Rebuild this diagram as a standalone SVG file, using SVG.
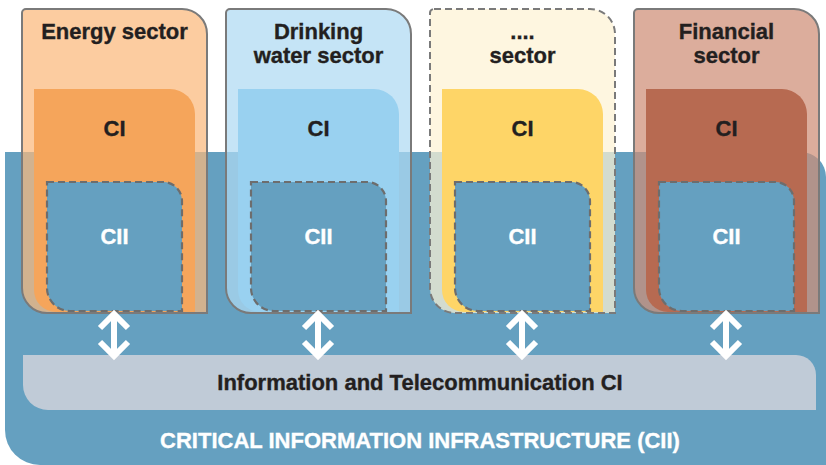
<svg xmlns="http://www.w3.org/2000/svg" width="826" height="465" viewBox="0 0 826 465">
<defs>
<style>
.bg{fill:#65a0c0}
.outer{stroke:#7a7a7a;stroke-width:2;fill-opacity:0.72}
.dashed{stroke-dasharray:7 4}
.cii{fill:#65a0c0;stroke:#6d6d6d;stroke-width:2.2;stroke-dasharray:7 4}
.t{font-family:"Liberation Sans",Arial,sans-serif;font-weight:bold;text-anchor:middle;fill:#231f20;stroke:#231f20;stroke-width:0.35}
.title{font-size:22px}
.ci{font-size:22px}
.w{fill:#ffffff;stroke:#ffffff}
.arrow{fill:none;stroke:#ffffff;stroke-width:6;stroke-linejoin:miter;stroke-linecap:butt}
.bar{fill:#c0cbd7}
</style>
</defs>
<path id="cii-background" class="bg" d="M5,152 H801 A25,25 0 0 1 826,177 V465 H40 A35,35 0 0 1 5,430 Z"/>

<g id="energy">
<path class="outer" fill="#fbb97c" d="M26,9 H182 A25,25 0 0 1 207,34 V313 H47 A25,25 0 0 1 22,288 V13 A4,4 0 0 1 26,9 Z"/>
<path fill="#f5a55b" d="M34,89 H170 A25,25 0 0 1 195,114 V312 H56 A22,22 0 0 1 34,290 Z"/>
<path class="cii" d="M47,182 H163 A19,19 0 0 1 182,201 V311 H70 A23,23 0 0 1 47,288 Z"/>
<text class="t title" x="114.5" y="39">Energy sector</text>
<text class="t ci" x="114.5" y="136">CI</text>
<text class="t ci w" x="114.5" y="244">CII</text>
</g>

<g id="drinking-water">
<path class="outer" fill="#afdaf3" d="M230,9 H386 A25,25 0 0 1 411,34 V313 H251 A25,25 0 0 1 226,288 V13 A4,4 0 0 1 230,9 Z"/>
<path fill="#99d1f0" d="M238,89 H374 A25,25 0 0 1 399,114 V312 H260 A22,22 0 0 1 238,290 Z"/>
<path class="cii" d="M251,182 H367 A19,19 0 0 1 386,201 V311 H274 A23,23 0 0 1 251,288 Z"/>
<text class="t title" x="318.5" y="39">Drinking</text>
<text class="t title" x="318.5" y="63">water sector</text>
<text class="t ci" x="318.5" y="136">CI</text>
<text class="t ci w" x="318.5" y="244">CII</text>
</g>

<g id="other-sector">
<path class="outer dashed" fill="#fef2d4" d="M434,9 H590 A25,25 0 0 1 615,34 V313 H455 A25,25 0 0 1 430,288 V13 A4,4 0 0 1 434,9 Z"/>
<path fill="#fed567" d="M442,89 H578 A25,25 0 0 1 603,114 V312 H464 A22,22 0 0 1 442,290 Z"/>
<path class="cii" d="M455,182 H571 A19,19 0 0 1 590,201 V311 H478 A23,23 0 0 1 455,288 Z"/>
<text class="t title" x="522.5" y="39">....</text>
<text class="t title" x="522.5" y="63">sector</text>
<text class="t ci" x="522.5" y="136">CI</text>
<text class="t ci w" x="522.5" y="244">CII</text>
</g>

<g id="financial">
<path class="outer" fill="#cf8e76" d="M638,9 H794 A25,25 0 0 1 819,34 V313 H659 A25,25 0 0 1 634,288 V13 A4,4 0 0 1 638,9 Z"/>
<path fill="#b76a51" d="M646,89 H782 A25,25 0 0 1 807,114 V312 H668 A22,22 0 0 1 646,290 Z"/>
<path class="cii" d="M659,182 H775 A19,19 0 0 1 794,201 V311 H682 A23,23 0 0 1 659,288 Z"/>
<text class="t title" x="726.5" y="39">Financial</text>
<text class="t title" x="726.5" y="63">sector</text>
<text class="t ci" x="726.5" y="136">CI</text>
<text class="t ci w" x="726.5" y="244">CII</text>
</g>

<g id="ict">
<path class="bar" d="M23,355 H796 A20,20 0 0 1 816,375 V410 H48 A25,25 0 0 1 23,385 Z"/>
<text class="t title" x="420" y="390">Information and Telecommunication CI</text>
</g>

<g id="connectors">
<path class="arrow" d="M114,317 V353 M100,328 L114,314 L128,328 M100,342 L114,356 L128,342"/>
<path class="arrow" d="M318,317 V353 M304,328 L318,314 L332,328 M304,342 L318,356 L332,342"/>
<path class="arrow" d="M522,317 V353 M508,328 L522,314 L536,328 M508,342 L522,356 L536,342"/>
<path class="arrow" d="M726,317 V353 M712,328 L726,314 L740,328 M712,342 L726,356 L740,342"/>
</g>

<text id="cii-label" class="t title w" x="420" y="448">CRITICAL INFORMATION INFRASTRUCTURE (CII)</text>
</svg>
